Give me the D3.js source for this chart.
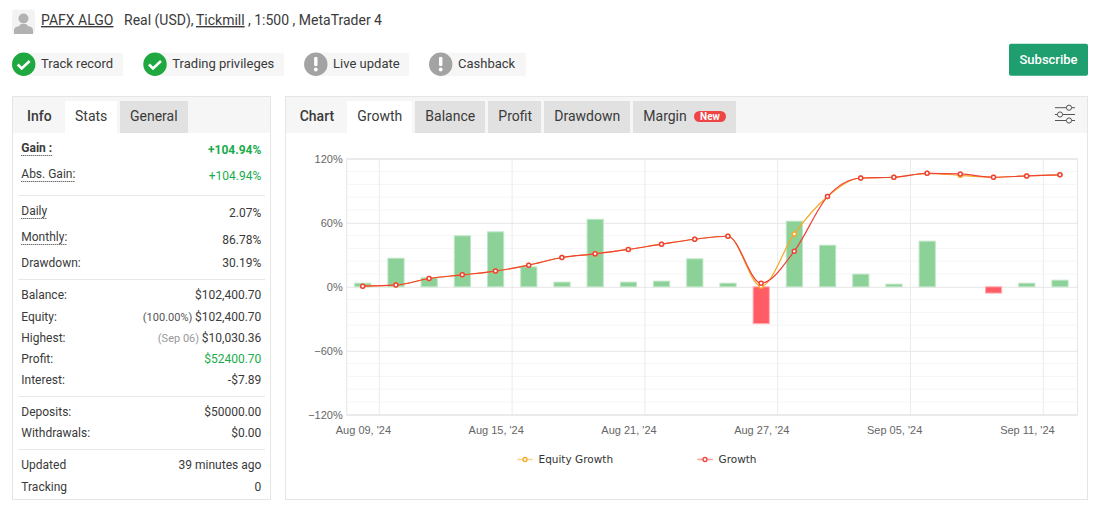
<!DOCTYPE html>
<html>
<head>
<meta charset="utf-8">
<script src="https://cdn.jsdelivr.net/npm/d3@7"></script>
<style>
  html, body { margin: 0; padding: 0; background: #fff; overflow: hidden; }
  svg { display: block; font-family: Roboto, sans-serif; }
  .axis text { font-family: "Liberation Sans", Arial, sans-serif; font-size: 11px; fill: #666; }
  .axis .domain { display: none; }
</style>
</head>
<body>
<div id="page"></div>
<script>
// Chart data
const days = ["Aug 09, '24", "Aug 12, '24", "Aug 13, '24", "Aug 14, '24", "Aug 15, '24", "Aug 16, '24",
  "Aug 19, '24", "Aug 20, '24", "Aug 21, '24", "Aug 22, '24", "Aug 23, '24", "Aug 26, '24",
  "Aug 27, '24", "Aug 28, '24", "Aug 29, '24", "Aug 30, '24", "Sep 05, '24", "Sep 06, '24",
  "Sep 09, '24", "Sep 10, '24", "Sep 11, '24", "Sep 12, '24"];
const dailyBars = [3.4, 26.8, 8.4, 47.8, 51.5, 18.7, 4.4, 63.3, 4.4, 5.3, 26.2, 3.4,
  -34.6, 61.5, 39, 11.9, 2.5, 42.8, 0, -5.9, 3.4, 6.2];
const growth = [0.6, 1.6, 7.8, 11.2, 14.7, 20.3, 27.5, 30.9, 35, 40, 44.6, 47.4,
  3.4, 33.4, 84.6, 102, 102.7, 106.4, 105.8, 102.7, 103.9, 104.94];
const equityGrowth = [0.6, 1.6, 7.8, 11.2, 14.7, 20.3, 27.5, 30.9, 35, 40, 44.6, 47.4,
  0.6, 49.6, 84.6, 102, 102.7, 106.4, 104.5, 102.7, 103.9, 104.94];
const majorTicks = [120, 60, 0, -60, -120];
const minorTicks = [108, 96, 84, 72, 48, 36, 24, 12, -12, -24, -36, -48, -72, -84, -96, -108];

// Page text
const statLabels = ["Gain :", "Abs. Gain:", "Daily", "Monthly:", "Drawdown:", "Balance:", "Equity:", "Highest:",
  "Profit:", "Interest:", "Deposits:", "Withdrawals:", "Updated", "Tracking"];
const statValues = ["+104.94%", "+104.94%", "2.07%", "86.78%", "30.19%", "$102,400.70", "$102,400.70", "$10,030.36",
  "$52400.70", "-$7.89", "$50000.00", "$0.00", "39 minutes ago", "0"];
const statNotes = ["", "", "", "", "", "", "(100.00%) ", "(Sep 06) ", "", "", "", "", "", ""];
const badgeNames = ["Track record", "Trading privileges", "Live update", "Cashback"];
const badgeOk = [true, true, false, false];
const chartTabs = ["Growth", "Balance", "Profit", "Drawdown", "Margin"];
const infoTabs = ["Stats", "General"];

const GREEN = "#1aab4b";
const TEXT = "#3a3a3a";

const svg = d3.select("#page").append("svg").attr("width", 1097).attr("height", 508);

function label(x, y, str, size, opts) {
  const o = opts || {};
  return svg.append("text")
    .attr("x", x).attr("y", y)
    .attr("text-anchor", o.anchor || "start")
    .style("font-size", size + "px")
    .style("font-weight", o.weight || 400)
    .style("letter-spacing", (o.spacing || 0) + "px")
    .style("text-decoration", o.underline ? "underline" : "none")
    .attr("fill", o.fill || TEXT)
    .text(str);
}

function box(x, y, w, h, fill, stroke, r) {
  return svg.append("rect")
    .attr("x", x).attr("y", y).attr("width", w).attr("height", h)
    .attr("rx", r || 0)
    .attr("fill", fill).attr("stroke", stroke || "none");
}

// Header
box(12, 9.5, 23, 24.5, "#f3f3f3", null, 3);
svg.append("circle").attr("cx", 23.5).attr("cy", 18.5).attr("r", 5).attr("fill", "#b2b2b2");
svg.append("path").attr("d", "M14 34 v-4 q0 -3 5 -4 l2 -2 h5 l2 2 q5 1 5 4 v4 z").attr("fill", "#b2b2b2");
label(41, 25, "PAFX ALGO", 14, { underline: true });
label(124, 25, "Real (USD),", 14);
label(196, 25, "Tickmill", 14, { underline: true });
label(248, 25, ", 1:500 , MetaTrader 4", 14);

// Badges
const badgeX = [23.7, 155, 315.8, 440.7];
const badgeEnd = [123, 284, 409, 526];
badgeNames.forEach((name, i) => {
  const cx = badgeX[i];
  box(cx, 52.7, badgeEnd[i] - cx, 23.3, "#f6f6f6", null, 2);
  svg.append("circle").attr("cx", cx).attr("cy", 64.3).attr("r", 11.7)
    .attr("fill", badgeOk[i] ? "#1fa83f" : "#a3a3a3");
  if (badgeOk[i]) {
    svg.append("path")
      .attr("d", `M${cx - 6} 64.5 l4 4 l8 -7.5`)
      .attr("fill", "none").attr("stroke", "#fff").attr("stroke-width", 2.6);
  } else {
    box(cx - 1.7, 57, 3.4, 9, "#fff", null, 1);
    svg.append("circle").attr("cx", cx).attr("cy", 69.5).attr("r", 1.9).attr("fill", "#fff");
  }
  label(cx + 17.3, 68, name, 13);
});

// Subscribe button
box(1009, 43.7, 79, 32, "#1f9e6f", null, 2);
label(1048.5, 64, "Subscribe", 13, { anchor: "middle", fill: "#fff", weight: 500 });

// Left panel
box(12.5, 96.5, 258, 403, "#fff", "#e5e5e5");
box(13, 97, 257, 36, "#f6f6f6");
label(27, 121, "Info", 14, { weight: 500 });
box(65, 101, 52, 33, "#fff");
label(75, 121, infoTabs[0], 14);
box(120, 101, 68, 32, "#e1e1e1");
label(130, 121, infoTabs[1], 14);

const labelY = [152, 178, 215, 241, 267, 299, 320.5, 342, 362.5, 384, 416, 437, 469, 491];
const valueY = [154, 179.5, 217, 243.5, 267, 299, 320.5, 342, 362.5, 384, 416, 437, 469, 491];
const dottedRows = [0, 1, 2, 3];
statLabels.forEach((name, i) => {
  const t = label(21.3, labelY[i], name, 12, { weight: i === 0 ? 700 : 400 });
  if (dottedRows.includes(i)) {
    svg.append("line")
      .attr("x1", 21.3).attr("x2", 21.3 + t.node().getComputedTextLength())
      .attr("y1", labelY[i] + 3.5).attr("y2", labelY[i] + 3.5)
      .attr("stroke", "#333").attr("stroke-dasharray", "1 1");
  }
  const green = i < 2 || i === 8;
  const v = label(261.3, valueY[i], "", 12, {
    anchor: "end",
    fill: green ? GREEN : TEXT,
    weight: i === 0 ? 700 : 400
  });
  if (statNotes[i]) {
    v.append("tspan").attr("fill", i === 7 ? "#999" : "#555").style("font-size", "11px").text(statNotes[i]);
  }
  v.append("tspan").text(statValues[i]);
});
[195.5, 279.5, 396.5, 449.5].forEach((y) => {
  svg.append("line").attr("x1", 18).attr("x2", 265).attr("y1", y).attr("y2", y).attr("stroke", "#e8e8e8");
});

// Right panel
box(285.5, 96.5, 802, 403, "#fff", "#e5e5e5");
box(286, 97, 801, 36, "#f6f6f6");
label(299.7, 121, "Chart", 14, { weight: 500 });
const tabStart = [347, 415, 488, 544, 633];
const tabEnd = [412, 485, 541, 630, 736];
chartTabs.forEach((name, i) => {
  box(tabStart[i], 101, tabEnd[i] - tabStart[i], i === 0 ? 33 : 32, i === 0 ? "#fff" : "#e1e1e1");
  label(tabStart[i] + 10.3, 121, name, 14);
});
box(694, 111, 32, 11, "#ef4444", null, 5.5);
label(710, 120, "New", 10, { anchor: "middle", fill: "#fff", weight: 700 });

// Settings icon
[[107.7, 1069], [114.5, 1060], [120.5, 1069]].forEach(([y, knob]) => {
  svg.append("line").attr("x1", 1055).attr("x2", 1075).attr("y1", y).attr("y2", y).attr("stroke", "#555");
  svg.append("circle").attr("cx", knob).attr("cy", y).attr("r", 2.6)
    .attr("fill", "#f6f6f6").attr("stroke", "#555");
});

// Chart
const x = d3.scaleBand().domain(days).range([346.1, 1076.5]).paddingInner(0.5).paddingOuter(0.25);
const y = d3.scaleLinear().domain([-120, 120]).range([414.8, 158.8]);
const cx = (d) => x(d) + x.bandwidth() / 2;
const tickDays = days.filter((d, i) => i % 4 === 0);

svg.append("g").selectAll("line").data(minorTicks).join("line")
  .attr("x1", 346.7).attr("x2", 1077.5)
  .attr("y1", (d) => y(d)).attr("y2", (d) => y(d))
  .attr("stroke", "#f5f5f5");

svg.append("g").selectAll("line").data(tickDays).join("line")
  .attr("x1", (d) => cx(d) + x.step() / 2).attr("x2", (d) => cx(d) + x.step() / 2)
  .attr("y1", y(120)).attr("y2", y(-120))
  .attr("stroke", "#ebebeb");

const yAxis = svg.append("g").attr("class", "axis").attr("transform", "translate(346.7,0)")
  .call(d3.axisLeft(y).tickValues(majorTicks).tickFormat((d) => (d < 0 ? "\u2212" + -d : d) + "%")
    .tickSize(0).tickPadding(4));
yAxis.selectAll(".tick text").attr("dy", "0.36em");
yAxis.selectAll(".tick").append("line")
  .attr("x1", 0).attr("x2", 730.8).attr("stroke", "#e6e6e6");

svg.append("rect")
  .attr("x", 346.7).attr("y", y(120)).attr("width", 730.8).attr("height", y(-120) - y(120))
  .attr("fill", "none").attr("stroke", "#e6e6e6");

const xAxis = svg.append("g").attr("class", "axis").attr("transform", "translate(0," + 414.8 + ")")
  .call(d3.axisBottom(x).tickValues(tickDays).tickSize(0).tickPadding(11));
xAxis.selectAll(".tick text").attr("dx", "0.7");

svg.append("g").selectAll("rect").data(days).join("rect")
  .attr("x", (d) => x(d) + 0.3)
  .attr("width", x.bandwidth() - 0.4)
  .attr("y", (d, i) => y(Math.max(dailyBars[i], 0)))
  .attr("height", (d, i) => Math.abs(y(dailyBars[i]) - y(0)))
  .attr("fill", (d, i) => (dailyBars[i] >= 0 ? "#8cd197" : "#ff5c66"))
  .attr("stroke", (d, i) => (dailyBars[i] === 0 ? "none" : dailyBars[i] > 0 ? "#bfe6c6" : "#ffb0b5"));

const line = d3.line().x((d, i) => cx(days[i])).y((d) => y(d)).curve(d3.curveMonotoneX);

function drawSeries(values, color) {
  svg.append("path").datum(values)
    .attr("d", line).attr("fill", "none").attr("stroke", color).attr("stroke-width", 1.2);
  svg.append("g").selectAll("circle").data(values).join("circle")
    .attr("cx", (d, i) => cx(days[i])).attr("cy", (d) => y(d)).attr("r", 2)
    .attr("fill", "#fff").attr("stroke", color).attr("stroke-width", 1.5);
}
drawSeries(equityGrowth, "#f7a823");
drawSeries(growth, "#ee4238");

// Legend
const legendNames = ["Equity Growth", "Growth"];
const legendColors = ["#f7a823", "#ee4238"];
const legendX = [517.3, 697.3];
legendNames.forEach((name, i) => {
  svg.append("line").attr("x1", legendX[i]).attr("x2", legendX[i] + 15.5)
    .attr("y1", 459.5).attr("y2", 459.5)
    .attr("stroke", legendColors[i]).attr("stroke-opacity", 0.5).attr("stroke-width", 1.5);
  svg.append("circle").attr("cx", legendX[i] + 7.7).attr("cy", 459.5).attr("r", 2)
    .attr("fill", "#fff").attr("stroke", legendColors[i]).attr("stroke-width", 1.3);
  label(legendX[i] + 21.2, 463, name, 10.5, { fill: "#333" }).style("font-family", "DejaVu Sans");
});
</script>
</body>
</html>
